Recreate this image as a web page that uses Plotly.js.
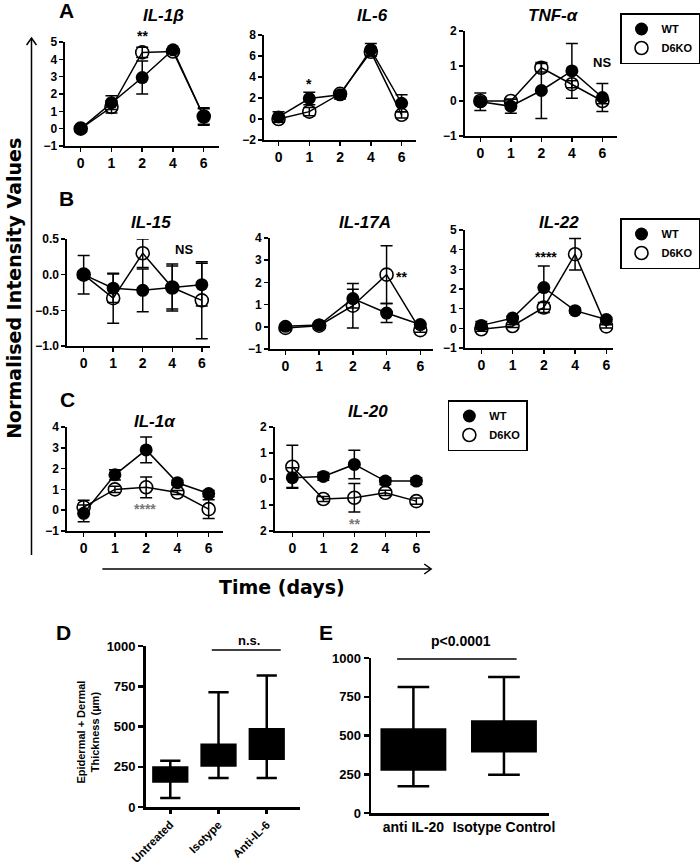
<!DOCTYPE html>
<html>
<head>
<meta charset="utf-8">
<script src="https://cdn.plot.ly/plotly-3.0.1.min.js"></script>
<style>
  html, body { margin: 0; padding: 0; background: #fff; }
  #chart { width: 700px; height: 866px; }
</style>
</head>
<body>
<div id="chart"></div>
<script>
'use strict'

// data

const days = ['0', '1', '2', '4', '6']

const il1b_wt = [0, 1.5, 2.95, 4.55, 0.7]
const il1b_wt_err = [0.12, 0.4, 0.95, 0.1, 0.5]
const il1b_ko = [0, 1.25, 4.4, 4.45, 0.7]
const il1b_ko_err = [0.1, 0.35, 0.3, 0.1, 0.45]

const il6_wt = [0.2, 1.95, 2.3, 6.6, 1.5]
const il6_wt_err = [0.5, 0.6, 0.4, 0.6, 0.8]
const il6_ko = [0, 0.7, 2.4, 6.4, 0.4]
const il6_ko_err = [0.3, 0.4, 0.3, 0.4, 0.3]

const tnf_wt = [-0.02, -0.15, 0.3, 0.86, 0.1]
const tnf_wt_err = [0.25, 0.2, 0.8, 0.78, 0.4]
const tnf_ko = [0, 0, 0.95, 0.48, 0]
const tnf_ko_err = [0.1, 0.05, 0.12, 0.1, 0.08]

const il15_wt = [0, -0.19, -0.22, -0.18, -0.14]
const il15_wt_err = [0.27, 0.2, 0.3, 0.3, 0.3]
const il15_ko = [0, -0.33, 0.3, -0.18, -0.36]
const il15_ko_err = [0.05, 0.35, 0.2, 0.33, 0.54]

const il17a_wt = [0.02, 0.08, 1.27, 0.62, 0.1]
const il17a_wt_err = [0.1, 0.05, 0.42, 0.43, 0.05]
const il17a_ko = [-0.05, 0.05, 0.95, 2.35, -0.15]
const il17a_ko_err = [0.1, 0.05, 1.0, 1.3, 0.1]

const il22_wt = [0.15, 0.52, 2.07, 0.9, 0.45]
const il22_wt_err = [0.2, 0.1, 1.1, 0.12, 0.1]
const il22_ko = [-0.05, 0.12, 1.06, 3.77, 0.1]
const il22_ko_err = [0.1, 0.08, 0.25, 0.8, 0.08]

const il1a_wt = [-0.15, 1.7, 2.9, 1.32, 0.8]
const il1a_wt_err = [0.4, 0.25, 0.62, 0.12, 0.15]
const il1a_ko = [0.15, 1.0, 1.1, 0.85, 0.05]
const il1a_ko_err = [0.33, 0.15, 0.5, 0.1, 0.45]

const il20_wt = [0.05, 0.1, 0.56, -0.08, -0.08]
const il20_wt_err = [0.38, 0.15, 0.55, 0.13, 0.13]
const il20_ko = [0.47, -0.77, -0.72, -0.53, -0.85]
const il20_ko_err = [0.83, 0.1, 0.55, 0.1, 0.12]

// thickness box plots (D, E)

const d_groups = ['Untreated', 'Isotype', 'Anti-IL-6']
const d_min = [56, 180, 180]
const d_q1 = [159, 258, 300]
const d_med = [200, 320, 390]
const d_q3 = [246, 386, 483]
const d_max = [287, 713, 816]

const e_groups = ['anti IL-20', 'Isotype Control']
const e_min = [172, 247]
const e_q1 = [280, 398]
const e_med = [400, 500]
const e_q3 = [538, 591]
const e_max = [813, 877]

///////////////////////////////////////////////////////

// page geometry helpers (pixels -> paper)

const W = 700, H = 866
const px = x => x / W
const py = y => 1 - y / H
const pathPx = pts => 'M' + pts.map(([x, y]) => px(x) + ',' + py(y)).join('L')

const FONT = '"Liberation Sans", Arial, sans-serif'
const WIDE = '"DejaVu Sans", "Liberation Sans", sans-serif'

// paper-anchored text, always centred on its point
const label = (x, y, text, font, extra) => Object.assign({
  xref: 'paper', yref: 'paper', x: px(x), y: py(y), text: text, showarrow: false,
  xanchor: 'center', yanchor: 'middle', font: Object.assign({ color: 'black' }, font || {})
}, extra || {})

// line-chart panels: box = [left, right, top, bottom] in px, x0 = px of first day, sp = px per day

const panels = [
  { title: 'IL-1β', wt: il1b_wt, wtErr: il1b_wt_err, ko: il1b_ko, koErr: il1b_ko_err, box: [66, 223, 42, 146], x0: 82, sp: 31.25, yr: [-1, 5], dtick: 1, titleAt: [166, 15], legend: 'legend' },
  { title: 'IL-6', wt: il6_wt, wtErr: il6_wt_err, ko: il6_ko, koErr: il6_ko_err, box: [268, 423, 35, 140], x0: 283, sp: 31.25, yr: [-2, 8], dtick: 2, titleAt: [378, 15] },
  { title: 'TNF-α', wt: tnf_wt, wtErr: tnf_wt_err, ko: tnf_ko, koErr: tnf_ko_err, box: [472, 627, 31, 136], x0: 488, sp: 31, yr: [-1, 2], dtick: 1, titleAt: [562, 15] },
  { title: 'IL-15', wt: il15_wt, wtErr: il15_wt_err, ko: il15_ko, koErr: il15_ko_err, box: [68, 213, 239, 346], x0: 85, sp: 30, yr: [-1, 0.5], dtick: 0.5, fmt: '.1f', titleAt: [153, 223], legend: 'legend2' },
  { title: 'IL-17A', wt: il17a_wt, wtErr: il17a_wt_err, ko: il17a_ko, koErr: il17a_ko_err, box: [274, 440, 238, 349], x0: 290, sp: 34.25, yr: [-1, 4], dtick: 1, titleAt: [371, 223] },
  { title: 'IL-22', wt: il22_wt, wtErr: il22_wt_err, ko: il22_ko, koErr: il22_ko_err, box: [472, 623, 230, 348], x0: 489, sp: 31.75, yr: [-1, 5], dtick: 1, titleAt: [568, 223] },
  { title: 'IL-1α', wt: il1a_wt, wtErr: il1a_wt_err, ko: il1a_ko, koErr: il1a_ko_err, box: [68, 227, 427, 531], x0: 85, sp: 31.75, yr: [-1, 4], dtick: 1, titleAt: [157, 421], legend: 'legend3' },
  { title: 'IL-20', wt: il20_wt, wtErr: il20_wt_err, ko: il20_ko, koErr: il20_ko_err, box: [279, 437, 427, 531], x0: 297, sp: 31.5, yr: [-2, 2], tickvals: [-2, -1, 0, 1, 2], ticktext: ['2', '1', '0', '1', '2'], titleAt: [374, 412] }
]

// data position inside a panel -> paper (for text that may sit above the axis range)
const paperX = (p, xi) => px(p.x0 + xi * p.sp)
const paperY = (p, v) => py(p.box[3] - (v - p.yr[0]) / (p.yr[1] - p.yr[0]) * (p.box[3] - p.box[2]))

const traces = []
const layout = {
  width: W,
  height: H,
  margin: { l: 0, r: 0, t: 0, b: 0 },
  paper_bgcolor: 'white',
  plot_bgcolor: 'white',
  font: { family: FONT, size: 12, color: 'black', weight: 'bold' },
  annotations: [],
  shapes: []
}

const errBar = arr => ({ type: 'data', array: arr, visible: true, color: 'black', thickness: 1.5, width: 6 })

panels.forEach((p, i) => {
  let s = i === 0 ? '' : String(i + 1)
  let xa = 'x' + s, ya = 'y' + s

  traces.push({ x: days, y: p.wt, xaxis: xa, yaxis: ya, mode: 'lines', line: { color: 'black', width: 1.5 }, showlegend: false, hoverinfo: 'skip' })
  traces.push({ x: days, y: p.ko, xaxis: xa, yaxis: ya, mode: 'lines', line: { color: 'black', width: 1.5 }, showlegend: false, hoverinfo: 'skip' })

  traces.push({
    x: days, y: p.ko, xaxis: xa, yaxis: ya, mode: 'markers', name: 'D6KO',
    marker: { symbol: 'circle-open', size: 13, color: 'black', line: { width: 1.6 } },
    error_y: errBar(p.koErr),
    legend: p.legend || 'legend', showlegend: !!p.legend, legendrank: 2
  })
  traces.push({
    x: days, y: p.wt, xaxis: xa, yaxis: ya, mode: 'markers', name: 'WT',
    marker: { symbol: 'circle', size: 13, color: 'black' },
    error_y: errBar(p.wtErr),
    legend: p.legend || 'legend', showlegend: !!p.legend, legendrank: 1
  })

  layout['xaxis' + s] = {
    domain: [px(p.box[0]), px(p.box[1])],
    anchor: ya,
    type: 'category',
    range: [(p.box[0] - p.x0) / p.sp, (p.box[1] - p.x0) / p.sp],
    showline: true, linecolor: 'black', linewidth: 1.5,
    ticks: 'outside', ticklen: 4, tickwidth: 1.5, tickcolor: 'black',
    showgrid: false, zeroline: false, fixedrange: true,
    tickfont: { size: 14 }
  }

  let yax = {
    domain: [py(p.box[3]), py(p.box[2])],
    anchor: xa,
    range: p.yr,
    showline: true, linecolor: 'black', linewidth: 1.5,
    ticks: 'outside', ticklen: 4, tickwidth: 1.5, tickcolor: 'black',
    showgrid: false, zeroline: false, fixedrange: true,
    tickfont: { size: 12 }
  }
  if (p.tickvals) {
    yax.tickmode = 'array'
    yax.tickvals = p.tickvals
    yax.ticktext = p.ticktext
  } else {
    yax.dtick = p.dtick
    yax.tick0 = 0
  }
  if (p.fmt) yax.tickformat = p.fmt
  layout['yaxis' + s] = yax

  layout.annotations.push(label(p.titleAt[0], p.titleAt[1], p.title, { size: 17, style: 'italic', weight: 'bold' }))
})

// significance marks on the line charts (panel index, day index, value)

const stars = [
  [0, 2, 5.35, '**', 'black'],
  [1, 1, 3.33, '*', 'black'],
  [2, 4, 1.09, 'NS', 'black'],
  [3, 3.4, 0.35, 'NS', 'black'],
  [4, 3.45, 2.25, '**', 'black'],
  [5, 2.08, 3.65, '****', 'black'],
  [6, 1.95, 0.05, '****', '#777'],
  [7, 2, -1.73, '**', '#777']
]
stars.forEach(([i, x, y, t, c]) => {
  let p = panels[i]
  layout.annotations.push({
    xref: 'paper', yref: 'paper', x: paperX(p, x), y: paperY(p, y), text: t, showarrow: false,
    xanchor: 'center', yanchor: 'middle',
    font: { size: t === 'NS' ? 13 : 14, color: c }
  })
})

// legends, one per row

const legendStyle = (x, y) => ({
  x: px(x), y: py(y), xanchor: 'left', yanchor: 'top',
  bgcolor: 'white', bordercolor: 'black', borderwidth: 1.5,
  font: { size: 11, weight: 'bold', color: 'black' }, itemwidth: 30, tracegroupgap: 0
})
layout.legend = legendStyle(630, 13)
layout.legend2 = legendStyle(630, 218)
layout.legend3 = legendStyle(455, 400)

// box plots D and E

const boxStyle = ww => ({
  type: 'box', fillcolor: 'black', line: { color: 'black', width: 2.5 },
  whiskerwidth: ww, width: 0.7, boxpoints: false, showlegend: false, hoverinfo: 'skip'
})

traces.push(Object.assign({
  x: d_groups, q1: d_q1, median: d_med, q3: d_q3, lowerfence: d_min, upperfence: d_max,
  xaxis: 'x9', yaxis: 'y9'
}, boxStyle(0.6)))

traces.push(Object.assign({
  x: e_groups, q1: e_q1, median: e_med, q3: e_q3, lowerfence: e_min, upperfence: e_max,
  xaxis: 'x10', yaxis: 'y10'
}, boxStyle(0.5)))

const boxY = (dom, xa) => ({
  domain: dom, anchor: xa, range: [0, 1000],
  tickmode: 'array', tickvals: [0, 250, 500, 750, 1000],
  showline: true, linecolor: 'black', linewidth: 2.5,
  ticks: 'outside', ticklen: 5, tickwidth: 2.5, tickcolor: 'black',
  showgrid: false, zeroline: false, fixedrange: true,
  tickfont: { size: 13 }
})

layout.xaxis9 = {
  domain: [px(148), px(305)], anchor: 'y9', type: 'category',
  range: [(148 - 173) / 49, (305 - 173) / 49],
  showline: true, linecolor: 'black', linewidth: 2.5,
  ticks: 'outside', ticklen: 4, tickwidth: 2.5, tickcolor: 'black',
  tickangle: -45, showgrid: false, zeroline: false, fixedrange: true,
  tickfont: { size: 11.5 }
}
layout.yaxis9 = boxY([py(807), py(646)], 'x9')

layout.xaxis10 = {
  domain: [px(377), px(558)], anchor: 'y10', type: 'category',
  range: [(377 - 420) / 92, (558 - 420) / 92],
  showline: true, linecolor: 'black', linewidth: 2.5,
  ticks: '', showgrid: false, zeroline: false, fixedrange: true,
  tickfont: { size: 14 }
}
layout.yaxis10 = boxY([py(813), py(658)], 'x10')

// comparison bars and their labels

layout.shapes.push(
  { type: 'line', xref: 'x9', yref: 'y9', x0: 0.86, x1: 2.29, y0: 975, y1: 975, line: { color: 'black', width: 1.5 } },
  { type: 'line', xref: 'x10', yref: 'y10', x0: -0.18, x1: 1.14, y0: 994, y1: 994, line: { color: 'black', width: 1.5 } }
)
layout.annotations.push(
  label(253, 640, 'n.s.', { size: 13 }),
  label(468, 641, 'p<0.0001', { size: 14 }),
  label(89, 732, 'Epidermal + Dermal<br>Thickness (µm)', { size: 11 }, { textangle: -90 })
)

// big axis arrows and labels

layout.shapes.push(
  { type: 'line', xref: 'paper', yref: 'paper', x0: px(32), x1: px(32), y0: py(555), y1: py(38), line: { color: 'black', width: 1.5 } },
  { type: 'path', xref: 'paper', yref: 'paper', path: pathPx([[27, 45], [32, 38], [37, 45]]), line: { color: 'black', width: 1.5 } },
  { type: 'line', xref: 'paper', yref: 'paper', x0: px(104), x1: px(438), y0: py(569), y1: py(569), line: { color: 'black', width: 1.5 } },
  { type: 'path', xref: 'paper', yref: 'paper', path: pathPx([[431, 564], [438, 569], [431, 574]]), line: { color: 'black', width: 1.5 } }
)

layout.annotations.push(
  label(14, 288, 'Normalised Intensity Values', { size: 19, family: WIDE }, { textangle: -90 }),
  label(286, 587, 'Time (days)', { size: 19, family: WIDE })
)

// panel letters
const letters = [['A', 68, 11], ['B', 68, 198], ['C', 69, 400], ['D', 65, 632], ['E', 331, 632]]
letters.forEach(([t, x, y]) => layout.annotations.push(label(x, y, t, { size: 21 })))

Plotly.newPlot('chart', traces, layout, { displayModeBar: false, staticPlot: true })
</script>
</body>
</html>
